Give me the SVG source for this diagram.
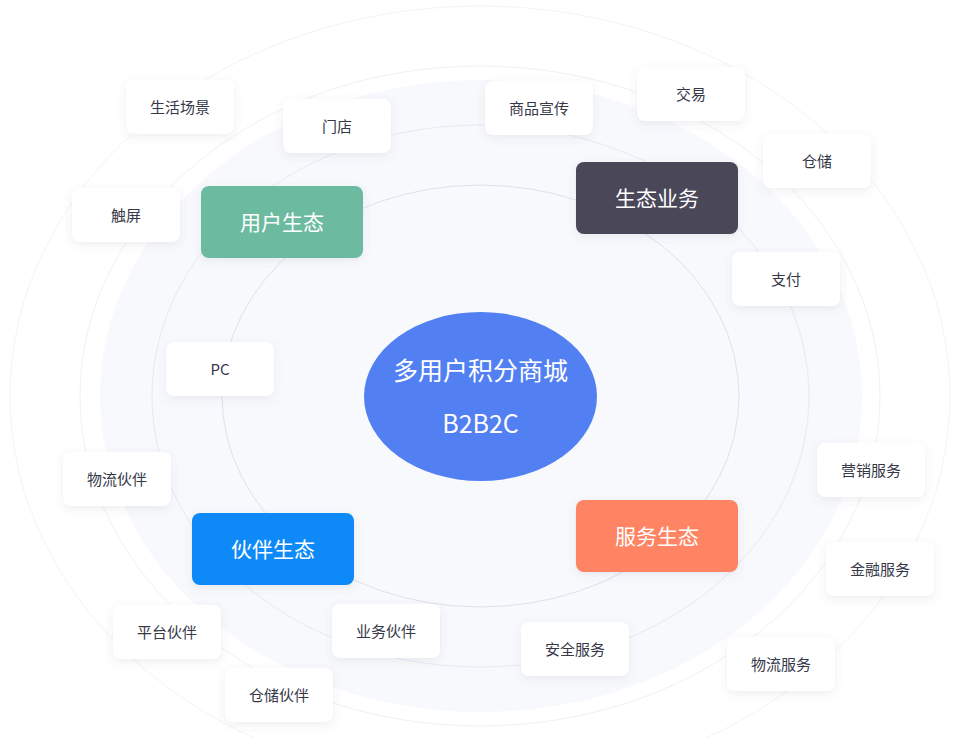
<svg xmlns="http://www.w3.org/2000/svg" width="964" height="738" viewBox="0 0 964 738">
<defs>
<style>
.ring{fill:none;stroke-width:1}
.card{fill:#ffffff;filter:url(#sh)}
.lbl{font-family:"Noto Sans CJK SC","Noto Sans",sans-serif;font-size:15px;fill:#363848;text-anchor:middle;dominant-baseline:central}
.cat{font-family:"Noto Sans CJK SC","Noto Sans",sans-serif;font-size:21px;fill:#ffffff;text-anchor:middle;dominant-baseline:central}
.ctr{font-family:"Noto Sans CJK SC","Noto Sans",sans-serif;font-size:25px;fill:#ffffff;text-anchor:middle}
</style>
<filter id="sh" x="-30%" y="-40%" width="160%" height="190%">
<feDropShadow dx="0" dy="3" stdDeviation="4" flood-color="#5a6080" flood-opacity="0.10"/>
</filter>
</defs>
<rect width="964" height="738" fill="#ffffff"/>
<g id="rings">
<ellipse class="ring" cx="480" cy="396" rx="470" ry="390" stroke="#f3f4f8"/>
<ellipse class="ring" cx="480" cy="396" rx="400" ry="330" stroke="#f0f1f7"/>
<ellipse cx="481" cy="396" rx="381" ry="316" fill="#f8f9fc"/>
<ellipse class="ring" cx="480.5" cy="396" rx="328.5" ry="271" stroke="#e8e9f1"/>
<ellipse class="ring" cx="480.5" cy="396" rx="258.5" ry="211" stroke="#dfe0ea"/>
</g>
<g id="connectors"></g>
<g id="center">
<ellipse cx="480.5" cy="396.5" rx="116.5" ry="84.5" fill="#5280f3"/>
<text class="ctr" x="480.5" y="380">多用户积分商城</text>
<text class="ctr" x="480.5" y="433">B2B2C</text>
</g>
<g id="n-user">
<rect x="201" y="186" width="162" height="72" rx="8" fill="#6cbba1" filter="url(#sh)"/>
<text class="cat" x="282" y="221">用户生态</text>
</g>
<g id="n-biz">
<rect x="576" y="162" width="162" height="72" rx="8" fill="#4a4758" filter="url(#sh)"/>
<text class="cat" x="657" y="197">生态业务</text>
</g>
<g id="n-partner">
<rect x="192" y="513" width="162" height="72" rx="8" fill="#0a8af8" filter="url(#sh)"/>
<text class="cat" x="273" y="548">伙伴生态</text>
</g>
<g id="n-service">
<rect x="576" y="500" width="162" height="72" rx="8" fill="#ff8464" filter="url(#sh)"/>
<text class="cat" x="657" y="535">服务生态</text>
</g>
<g id="l-life"><rect class="card" x="126" y="80" width="108" height="54" rx="8"/><text class="lbl" x="180" y="106">生活场景</text></g>
<g id="l-store"><rect class="card" x="283" y="99" width="108" height="54" rx="8"/><text class="lbl" x="337" y="125">门店</text></g>
<g id="l-touch"><rect class="card" x="72" y="188" width="108" height="54" rx="8"/><text class="lbl" x="126" y="214">触屏</text></g>
<g id="l-pc"><rect class="card" x="166" y="342" width="108" height="54" rx="8"/><text class="lbl" x="220" y="368">PC</text></g>
<g id="l-promo"><rect class="card" x="485" y="81" width="108" height="54" rx="8"/><text class="lbl" x="539" y="107">商品宣传</text></g>
<g id="l-trade"><rect class="card" x="637" y="67" width="108" height="54" rx="8"/><text class="lbl" x="691" y="93">交易</text></g>
<g id="l-storage"><rect class="card" x="763" y="134" width="108" height="54" rx="8"/><text class="lbl" x="817" y="160">仓储</text></g>
<g id="l-pay"><rect class="card" x="732" y="252" width="108" height="54" rx="8"/><text class="lbl" x="786" y="278">支付</text></g>
<g id="l-logp"><rect class="card" x="63" y="452" width="108" height="54" rx="8"/><text class="lbl" x="117" y="478">物流伙伴</text></g>
<g id="l-platp"><rect class="card" x="113" y="605" width="108" height="54" rx="8"/><text class="lbl" x="167" y="631">平台伙伴</text></g>
<g id="l-bizp"><rect class="card" x="332" y="604" width="108" height="54" rx="8"/><text class="lbl" x="386" y="630">业务伙伴</text></g>
<g id="l-storp"><rect class="card" x="225" y="668" width="108" height="54" rx="8"/><text class="lbl" x="279" y="694">仓储伙伴</text></g>
<g id="l-mkt"><rect class="card" x="817" y="443" width="108" height="54" rx="8"/><text class="lbl" x="871" y="469">营销服务</text></g>
<g id="l-fin"><rect class="card" x="826" y="542" width="108" height="54" rx="8"/><text class="lbl" x="880" y="568">金融服务</text></g>
<g id="l-sec"><rect class="card" x="521" y="622" width="108" height="54" rx="8"/><text class="lbl" x="575" y="648">安全服务</text></g>
<g id="l-logs"><rect class="card" x="727" y="637" width="108" height="54" rx="8"/><text class="lbl" x="781" y="663">物流服务</text></g>
</svg>
